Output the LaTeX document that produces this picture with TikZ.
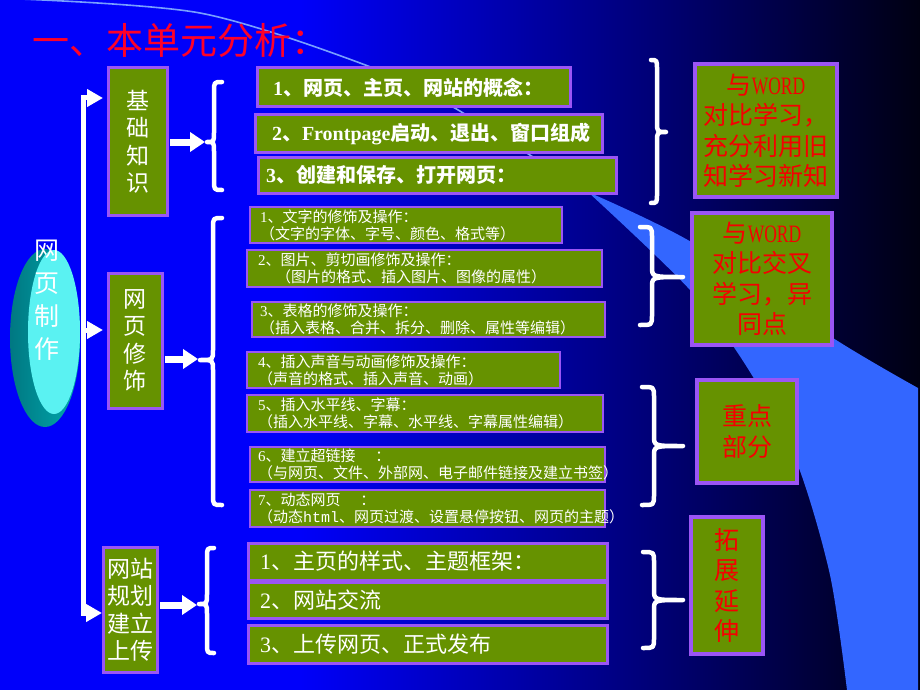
\documentclass[tikz,border=0pt]{standalone}
\usepackage{fontspec}
\setmainfont{Liberation Serif}
\newfontfamily\cjk{Noto Sans CJK SC}
\newfontfamily\latn{Liberation Serif}
\newfontfamily\latmono{Liberation Mono}
\newfontfamily\narrowserif[FakeStretch=0.7]{Liberation Serif}
\usetikzlibrary{arrows.meta}
\definecolor{bgblue}{RGB}{0,0,250}
\definecolor{bgdark}{RGB}{0,0,18}
\definecolor{beamblue}{RGB}{51,102,255}
\definecolor{beamline}{RGB}{120,160,255}
\definecolor{boxgreen}{RGB}{102,146,0}
\definecolor{boxpurple}{RGB}{155,85,245}
\definecolor{titlered}{RGB}{255,0,40}
\definecolor{textred}{RGB}{245,0,0}
\definecolor{cyanface}{RGB}{90,242,242}
\definecolor{cyanside}{RGB}{0,170,175}
\definecolor{cyandark}{RGB}{0,120,130}
\newcommand\curlybr[6]{\draw[bracestroke] (#1,#4) .. controls (#2,#4) .. (#2,{#4+10}) -- (#2,{#5-10}) .. controls (#2,#5) .. (#3,#5) .. controls (#2,#5) .. (#2,{#5+10}) -- (#2,{#6-10}) .. controls (#2,#6) .. (#1,#6);}
\begin{document}
\begin{tikzpicture}[x=1pt,y=-1pt,
  bracestroke/.style={draw=white, line width=4.5, line cap=round, line join=round},
  spinestroke/.style={draw=white, line width=5},
  spinearrow/.style={draw=white, fill=white, line width=5, -{Triangle[length=16pt,width=17pt]}},
  bigarrow/.style={draw=white, fill=white, line width=7, -{Triangle[length=15pt,width=19pt]}},
  boxbase/.style={draw=boxpurple, fill=boxgreen, outer sep=0pt, inner ysep=0pt, anchor=north west},
  thickbox/.style={boxbase, line width=3},
  thinbox/.style={boxbase, line width=1.3},
  bigtxt/.style={text=white, font=\cjk\bfseries\fontsize{20}{24}\selectfont, align=left},
  smalltxt/.style={text=white, font=\cjk\fontsize{15}{17}\selectfont, align=left},
  midtxt/.style={text=white, font=\cjk\fontsize{22}{26}\selectfont, align=left},
  lefttxt/.style={text=white, font=\cjk\fontsize{23}{27.5}\selectfont, align=center, inner xsep=0pt},
  redtxt/.style={text=textred, font=\cjk\fontsize{25}{30.5}\selectfont, align=center, inner xsep=0pt},
  titletxt/.style={text=titlered, font=\cjk\fontsize{37}{40}\selectfont},
  cyltxt/.style={text=white, font=\cjk\fontsize{25}{33}\selectfont, align=center}
]
\useasboundingbox (0,0) rectangle (920,690);
% background
\fill[bgblue] (0,0) rectangle (300.5,690);
\shade[left color=bgblue, right color=bgdark] (300,0) rectangle (920,690);
% light beam
\fill[beamblue] plot[smooth] coordinates {(588,192) (693,243) (833,338) (918,388)} -- (918,690) -- (847,690) -- plot[smooth] coordinates {(847,690) (830,575) (797,463) (750,372) (690,290) (588,192)} -- cycle;
\draw[beamline, line width=1.6] plot[smooth] coordinates {(20,-1) (200,13) (360,63) (453,107) (590,194)};
% title
\node[titletxt] (title) at (180,40) {一、本单元分析：};
% cylinder
\shade[left color=cyandark, right color=cyanside] (45,338) ellipse [x radius=35, y radius=89];
\fill[cyanface] (54,332) ellipse [x radius=26, y radius=82];
\node[cyltxt] (cyl) at (47,300) {网\\页\\制\\作};
% left boxes
\node[thickbox, lefttxt, minimum width=59, minimum height=147] (L1) at (108,68) {基\\础\\知\\识};
\node[thickbox, lefttxt, minimum width=54, minimum height=135] (L2) at (108,273) {网\\页\\修\\饰};
\node[thickbox, lefttxt, minimum width=54, minimum height=125] (L3) at (103,547) {网站\\规划\\建立\\上传};
% spine
\coordinate (stop) at (83,98);
\coordinate (smid) at (83,330);
\coordinate (sbot) at (83,613);
\draw[spinestroke, line cap=rect] (stop) -- (sbot);
\draw[spinearrow, shorten >=5pt] (stop) -- (L1.west |- stop);
\draw[spinearrow, shorten >=5pt] (smid) -- (L2.west |- smid);
\draw[spinearrow, shorten >=1pt] (sbot) -- (L3.west |- sbot);
% arrows to braces
\coordinate (t1) at (205,142);
\coordinate (t2) at (198,359);
\coordinate (t3) at (197,605);
\draw[bigarrow, shorten <=3pt] (L1.east |- t1) -- (t1);
\draw[bigarrow, shorten <=3pt] (L2.east |- t2) -- (t2);
\draw[bigarrow, shorten <=3pt] (L3.east |- t3) -- (t3);
% left braces
\curlybr{222}{214}{207}{82}{142}{190}
\curlybr{222}{213}{200}{218}{360}{505}
\curlybr{214}{207}{199}{548}{604}{653}
% middle group 1
\node[thickbox, bigtxt, minimum width=313, minimum height=39, text width=281pt, inner xsep=16pt] (m1) at (257,68) {{\latn\bfseries 1}、网页、主页、网站的概念：};
\node[thickbox, bigtxt, minimum width=347, minimum height=37, text width=313pt, inner xsep=17pt] (m2) at (255,115) {{\latn\bfseries 2}、{\latn\bfseries Frontpage}启动、退出、窗口组成};
\node[thickbox, bigtxt, minimum width=358, minimum height=36, text width=342pt, inner xsep=8pt] (m3) at (258,157) {{\latn\bfseries 3}、创建和保存、打开网页：};
% middle group 2
\node[thinbox, smalltxt, minimum width=312, minimum height=36, text width=292pt, inner xsep=10pt] (s1) at (250,207) {{\latn 1}、文字的修饰及操作：\\（文字的字体、字号、颜色、格式等）};
\node[thinbox, smalltxt, minimum width=355, minimum height=37, text width=333pt, inner xsep=11pt] (s2) at (247,250) {{\latn 2}、图片、剪切画修饰及操作：\\\hspace*{18pt}（图片的格式、插入图片、图像的属性）};
\node[thinbox, smalltxt, minimum width=353, minimum height=35, text width=337pt, inner xsep=8pt] (s3) at (252,302) {{\latn 3}、表格的修饰及操作：\\（插入表格、合并、拆分、删除、属性等编辑）};
\node[thinbox, smalltxt, minimum width=313, minimum height=36, text width=291pt, inner xsep=11pt] (s4) at (247,352) {{\latn 4}、插入声音与动画修饰及操作：\\（声音的格式、插入声音、动画）};
\node[thinbox, smalltxt, minimum width=356, minimum height=37, text width=334pt, inner xsep=11pt] (s5) at (247,395) {{\latn 5}、插入水平线、字幕：\\（插入水平线、字幕、水平线、字幕属性编辑）};
\node[thinbox, smalltxt, minimum width=355, minimum height=35, text width=339pt, inner xsep=8pt] (s6) at (250,447) {{\latn 6}、建立超链接\hspace{20pt}：\\（与网页、文件、外部网、电子邮件链接及建立书签）};
\node[thinbox, smalltxt, minimum width=355, minimum height=37, text width=339pt, inner xsep=8pt] (s7) at (250,490) {{\latn 7}、动态网页\hspace{20pt}：\\（动态{\latmono html}、网页过渡、设置悬停按钮、网页的主题）};
% middle group 3
\node[thickbox, midtxt, minimum width=359, minimum height=37, text width=335pt, inner xsep=12pt] (b1) at (248,543) {{\latn 1}、主页的样式、主题框架：};
\node[thickbox, midtxt, minimum width=359, minimum height=36, text width=335pt, inner xsep=12pt] (b2) at (248,582) {{\latn 2}、网站交流};
\node[thickbox, midtxt, minimum width=359, minimum height=38, text width=335pt, inner xsep=12pt] (b3) at (248,625) {{\latn 3}、上传网页、正式发布};
% right braces
\curlybr{651}{657}{666}{60}{132}{203}
\curlybr{640}{652}{683}{227}{277}{325}
\curlybr{642}{654}{683}{387}{446}{505}
\curlybr{643}{654}{683}{552}{600}{648}
% right boxes
\node[thickbox, line width=4, redtxt, minimum width=142, minimum height=133] (r1) at (695,64) {与{\narrowserif WORD}\\对比学习，\\充分利用旧\\知学习新知};
\node[thickbox, line width=4, redtxt, minimum width=140, minimum height=132] (r2) at (692,213) {与{\narrowserif WORD}\\对比交叉\\学习，异\\同点};
\node[thickbox, line width=4, redtxt, minimum width=100, minimum height=103] (r3) at (697,380) {重点\\部分};
\node[thickbox, line width=4, redtxt, minimum width=72, minimum height=137] (r4) at (691,517) {拓\\展\\延\\伸};
\end{tikzpicture}
\end{document}
